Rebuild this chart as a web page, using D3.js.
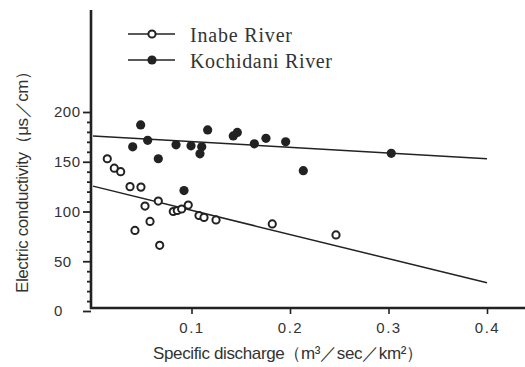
<!DOCTYPE html>
<html>
<head>
<meta charset="utf-8">
<script src="https://cdn.jsdelivr.net/npm/d3@7"></script>
<style>
  body { margin: 0; background: #fff; }
  svg { display: block; }
  text { fill: #333; }
</style>
</head>
<body>
<svg width="525" height="367"></svg>
<script>
// Inabe River (open circles)
const inabeQ = [0.0145, 0.0216, 0.0281, 0.0376, 0.0487, 0.0663, 0.0528, 0.0579, 0.0426, 0.0677,
                0.0815, 0.0856, 0.090, 0.0967, 0.1076, 0.1127, 0.1249, 0.182, 0.2467]
const inabeEC = [153, 143.5, 140, 125, 124.5, 110.5, 105.5, 90, 81, 66,
                 100, 101, 102.5, 106.5, 96, 94, 91.5, 87.5, 76.5]
// Kochidani River (filled circles)
const kochiQ = [0.0484, 0.0403, 0.0555, 0.0663, 0.0843, 0.0995, 0.1104, 0.1086, 0.1164, 0.1424,
                0.1465, 0.1638, 0.1756, 0.1956, 0.2135, 0.3028, 0.0924]
const kochiEC = [187, 165, 171.5, 153, 167, 166, 165, 158, 182, 176,
                 179.5, 168, 173.5, 170, 141, 158.5, 121]
// regression lines [intercept, slope]
const inabeFit = [125.5, -243]
const kochiFit = [176, -57.5]

const xTicks = [0.1, 0.2, 0.3, 0.4]
const yTicks = d3.range(0, 201, 10)
const yLabels = [0, 50, 100, 150, 200]

const x = d3.scaleLinear().domain([0, 0.4]).range([93, 487])
const y = d3.scaleLinear().domain([0, 200]).range([311, 112])

const svg = d3.select('svg')
const axisX0 = 91, axisY0 = 308
const ink = '#222'
const sans = '"Liberation Sans", Arial, sans-serif'

// y axis
const yAxisG = svg.append('g')
    .attr('transform', `translate(${axisX0},0)`)
    .call(d3.axisLeft(y).tickValues(yTicks)
        .tickSize(0)
        .tickFormat(d => yLabels.includes(d) ? d : ''))
yAxisG.select('.domain').remove()
yAxisG.selectAll('.tick line')
    .attr('x2', d => yLabels.includes(d) ? -8 : -4)
    .attr('stroke', ink).attr('stroke-width', 1.8)
yAxisG.selectAll('.tick text')
    .attr('x', -37).attr('text-anchor', 'start')
    .style('font-family', sans).style('font-size', '15px')
    .style('letter-spacing', '0.5px').attr('fill', '#333')
svg.append('line')
    .attr('x1', axisX0).attr('x2', axisX0).attr('y1', 10).attr('y2', axisY0 + 1)
    .attr('stroke', ink).attr('stroke-width', 2.6)

// x axis
const xAxisG = svg.append('g')
    .attr('transform', `translate(0,${axisY0})`)
    .call(d3.axisBottom(x).tickValues(xTicks).tickSize(6).tickPadding(8)
        .tickFormat(d3.format('.1f')))
xAxisG.select('.domain').remove()
xAxisG.selectAll('.tick line').attr('stroke', ink).attr('stroke-width', 1.6)
xAxisG.selectAll('.tick text')
    .style('font-family', sans).style('font-size', '15px')
    .style('letter-spacing', '1.5px').attr('fill', '#333')
svg.append('line')
    .attr('x1', axisX0 - 1).attr('x2', 525).attr('y1', axisY0).attr('y2', axisY0)
    .attr('stroke', ink).attr('stroke-width', 2.6)

// regression lines
const fitLine = (fit) => svg.append('line')
    .attr('x1', x(0)).attr('y1', y(fit[0]))
    .attr('x2', x(0.4)).attr('y2', y(fit[0] + fit[1] * 0.4))
    .attr('stroke', ink).attr('stroke-width', 1.5)
fitLine(kochiFit)
fitLine(inabeFit)

// points
svg.append('g').selectAll('circle')
    .data(inabeQ.map((q, i) => [q, inabeEC[i]]))
    .join('circle')
    .attr('cx', d => x(d[0])).attr('cy', d => y(d[1]))
    .attr('r', 3.6).attr('fill', '#fff')
    .attr('stroke', ink).attr('stroke-width', 2)
svg.append('g').selectAll('circle')
    .data(kochiQ.map((q, i) => [q, kochiEC[i]]))
    .join('circle')
    .attr('cx', d => x(d[0])).attr('cy', d => y(d[1]))
    .attr('r', 4.6).attr('fill', ink)

// legend
const legend = [
  { name: 'Inabe River', filled: false, y: 34, len: 102 },
  { name: 'Kochidani River', filled: true, y: 60, len: 142 }
]
legend.forEach(l => {
  svg.append('line')
      .attr('x1', 128).attr('x2', 175).attr('y1', l.y).attr('y2', l.y)
      .attr('stroke', ink).attr('stroke-width', 1.5)
  svg.append('circle')
      .attr('cx', 152).attr('cy', l.y)
      .attr('r', l.filled ? 4.6 : 3.6)
      .attr('fill', l.filled ? ink : '#fff')
      .attr('stroke', ink).attr('stroke-width', l.filled ? 0 : 2)
  svg.append('text')
      .attr('x', 190).attr('y', l.y + 8)
      .attr('textLength', l.len).attr('lengthAdjust', 'spacing')
      .style('font-family', '"Liberation Serif", "Times New Roman", serif')
      .style('font-size', '20px')
      .text(l.name)
})

// axis titles
svg.append('text')
    .attr('transform', 'translate(28,178) rotate(-90)')
    .attr('text-anchor', 'middle')
    .attr('textLength', 230).attr('lengthAdjust', 'spacing')
    .style('font-family', sans).style('font-size', '17px')
    .text('Electric conductivity（μs／cm）')
svg.append('text')
    .attr('x', 288).attr('y', 359)
    .attr('text-anchor', 'middle')
    .attr('textLength', 270).attr('lengthAdjust', 'spacing')
    .style('font-family', sans).style('font-size', '17px')
    .text('Specific discharge（m³／sec／km²）')
</script>
</body>
</html>
